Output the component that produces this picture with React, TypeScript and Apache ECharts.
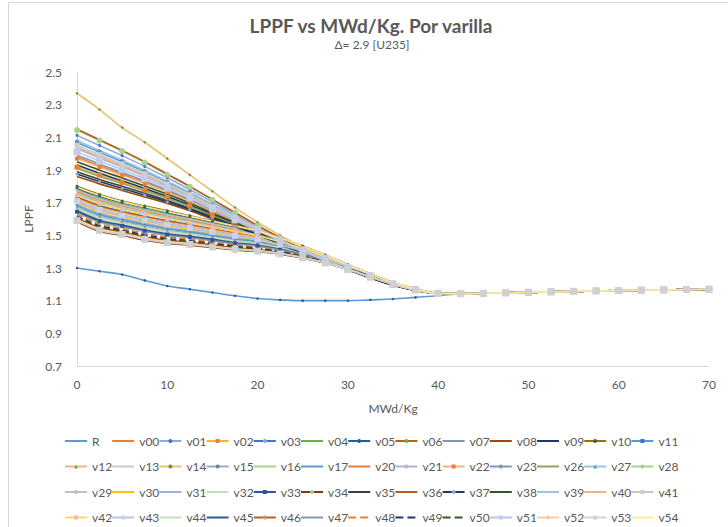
import React, { useEffect, useRef } from "react";
import * as echarts from "echarts";

// x positions (MWd/Kg)
const X_VALUES = [0, 2.5, 5, 7.5, 10, 12.5, 15, 17.5, 20, 22.5, 25, 27.5, 30, 32.5, 35, 37.5,
  40, 42.5, 45, 47.5, 50, 52.5, 55, 57.5, 60, 62.5, 65, 67.5, 70];

// common values from x = 40 to 70 (all rods coincide there)
const TAIL = [1.145, 1.143, 1.145, 1.148, 1.151, 1.154, 1.157, 1.16, 1.162, 1.164, 1.166, 1.168, 1.17];

// per-series values for x = 0 .. 37.5 (R also has x = 40)
const R = [1.3, 1.28, 1.26, 1.224, 1.19, 1.17, 1.15, 1.13, 1.113, 1.105, 1.1, 1.1, 1.1, 1.105, 1.11, 1.12, 1.13];
const v00 = [1.979, 1.926, 1.875, 1.823, 1.769, 1.712, 1.649, 1.587, 1.525, 1.461, 1.4, 1.346, 1.294, 1.244, 1.199, 1.166];
const v01 = [2.112, 2.05, 1.988, 1.922, 1.852, 1.781, 1.704, 1.628, 1.552, 1.48, 1.412, 1.353, 1.299, 1.249, 1.204, 1.169];
const v02 = [1.918, 1.869, 1.824, 1.778, 1.731, 1.68, 1.624, 1.568, 1.512, 1.453, 1.395, 1.343, 1.292, 1.242, 1.197, 1.164];
const v03 = [1.736, 1.683, 1.647, 1.617, 1.59, 1.566, 1.541, 1.515, 1.491, 1.455, 1.413, 1.365, 1.311, 1.259, 1.207, 1.17];
const v04 = [1.779, 1.728, 1.689, 1.659, 1.63, 1.602, 1.574, 1.545, 1.517, 1.475, 1.428, 1.375, 1.317, 1.263, 1.209, 1.171];
const v05 = [1.789, 1.739, 1.7, 1.67, 1.64, 1.611, 1.582, 1.553, 1.524, 1.48, 1.431, 1.378, 1.319, 1.264, 1.21, 1.172];
const v06 = [1.731, 1.677, 1.642, 1.612, 1.585, 1.562, 1.537, 1.512, 1.488, 1.453, 1.411, 1.364, 1.311, 1.259, 1.207, 1.17];
const v07 = [1.991, 1.937, 1.885, 1.832, 1.776, 1.718, 1.654, 1.591, 1.527, 1.463, 1.401, 1.347, 1.295, 1.245, 1.2, 1.166];
const v08 = [1.86, 1.815, 1.775, 1.735, 1.695, 1.65, 1.6, 1.55, 1.5, 1.445, 1.39, 1.34, 1.29, 1.24, 1.195, 1.163];
const v09 = [1.93, 1.88, 1.834, 1.787, 1.738, 1.686, 1.629, 1.572, 1.514, 1.455, 1.396, 1.344, 1.292, 1.242, 1.197, 1.165];
const v10 = [1.8, 1.75, 1.71, 1.68, 1.65, 1.62, 1.59, 1.56, 1.53, 1.485, 1.435, 1.38, 1.32, 1.265, 1.21, 1.172];
const v11 = [2.069, 2.009, 1.951, 1.89, 1.825, 1.758, 1.686, 1.615, 1.543, 1.474, 1.408, 1.351, 1.297, 1.247, 1.202, 1.168];
const v12 = [1.725, 1.671, 1.637, 1.607, 1.58, 1.557, 1.532, 1.508, 1.485, 1.45, 1.409, 1.363, 1.31, 1.258, 1.207, 1.17];
const v13 = [1.693, 1.638, 1.605, 1.575, 1.55, 1.53, 1.508, 1.485, 1.465, 1.435, 1.398, 1.355, 1.305, 1.255, 1.205, 1.169];
const v14 = [2.37, 2.27, 2.16, 2.07, 1.97, 1.87, 1.77, 1.67, 1.58, 1.5, 1.43, 1.37, 1.31, 1.26, 1.21, 1.175];
const v15 = [1.688, 1.632, 1.6, 1.57, 1.545, 1.526, 1.504, 1.482, 1.462, 1.433, 1.396, 1.354, 1.305, 1.255, 1.205, 1.169];
const v16 = [1.757, 1.705, 1.668, 1.638, 1.61, 1.584, 1.557, 1.53, 1.504, 1.465, 1.42, 1.37, 1.314, 1.261, 1.208, 1.171];
const v17 = [1.682, 1.626, 1.595, 1.565, 1.54, 1.521, 1.499, 1.478, 1.459, 1.43, 1.394, 1.353, 1.304, 1.254, 1.205, 1.168];
const v20 = [1.768, 1.716, 1.679, 1.649, 1.62, 1.593, 1.565, 1.538, 1.511, 1.47, 1.424, 1.373, 1.316, 1.262, 1.209, 1.171];
const v21 = [1.714, 1.66, 1.626, 1.596, 1.57, 1.548, 1.524, 1.5, 1.478, 1.445, 1.405, 1.36, 1.308, 1.257, 1.206, 1.169];
const v22 = [1.97, 1.918, 1.868, 1.817, 1.763, 1.707, 1.646, 1.584, 1.523, 1.46, 1.4, 1.346, 1.294, 1.244, 1.199, 1.166];
const v23 = [1.671, 1.615, 1.584, 1.554, 1.53, 1.512, 1.491, 1.47, 1.452, 1.425, 1.39, 1.35, 1.302, 1.253, 1.204, 1.168];
const v26 = [1.909, 1.861, 1.817, 1.772, 1.726, 1.676, 1.62, 1.565, 1.51, 1.452, 1.394, 1.343, 1.292, 1.242, 1.197, 1.164];
const v27 = [2.08, 2.02, 1.961, 1.898, 1.832, 1.764, 1.691, 1.618, 1.546, 1.475, 1.409, 1.351, 1.298, 1.248, 1.203, 1.168];
const v28 = [2.144, 2.08, 2.015, 1.946, 1.871, 1.797, 1.718, 1.638, 1.559, 1.484, 1.415, 1.355, 1.3, 1.25, 1.205, 1.17];
const v29 = [1.774, 1.722, 1.684, 1.654, 1.625, 1.598, 1.57, 1.542, 1.514, 1.473, 1.426, 1.374, 1.317, 1.263, 1.209, 1.171];
const v30 = [1.703, 1.649, 1.616, 1.586, 1.56, 1.539, 1.516, 1.493, 1.472, 1.44, 1.401, 1.358, 1.307, 1.256, 1.206, 1.169];
const v31 = [2.031, 1.974, 1.92, 1.862, 1.801, 1.739, 1.671, 1.603, 1.535, 1.469, 1.405, 1.349, 1.296, 1.246, 1.201, 1.167];
const v32 = [1.666, 1.61, 1.579, 1.549, 1.525, 1.508, 1.487, 1.467, 1.449, 1.423, 1.388, 1.349, 1.302, 1.253, 1.204, 1.168];
const v33 = [1.645, 1.587, 1.558, 1.528, 1.505, 1.49, 1.471, 1.452, 1.436, 1.413, 1.381, 1.344, 1.299, 1.251, 1.203, 1.167];
const v34 = [1.585, 1.525, 1.5, 1.47, 1.45, 1.44, 1.425, 1.41, 1.4, 1.385, 1.36, 1.33, 1.29, 1.245, 1.2, 1.165];
const v35 = [1.889, 1.842, 1.8, 1.757, 1.713, 1.665, 1.612, 1.559, 1.506, 1.449, 1.393, 1.342, 1.291, 1.241, 1.196, 1.164];
const v36 = [2.15, 2.085, 2.02, 1.95, 1.875, 1.8, 1.72, 1.64, 1.56, 1.485, 1.415, 1.355, 1.3, 1.25, 1.205, 1.17];
const v37 = [1.875, 1.829, 1.787, 1.746, 1.704, 1.658, 1.606, 1.555, 1.503, 1.447, 1.391, 1.341, 1.29, 1.24, 1.195, 1.163];
const v38 = [1.95, 1.899, 1.851, 1.802, 1.751, 1.697, 1.637, 1.578, 1.519, 1.457, 1.398, 1.345, 1.293, 1.243, 1.198, 1.165];
const v39 = [1.752, 1.7, 1.663, 1.633, 1.605, 1.58, 1.553, 1.527, 1.501, 1.463, 1.418, 1.369, 1.314, 1.261, 1.208, 1.171];
const v40 = [2.04, 1.982, 1.927, 1.868, 1.807, 1.743, 1.674, 1.606, 1.537, 1.47, 1.406, 1.349, 1.296, 1.246, 1.201, 1.167];
const v41 = [2.051, 1.993, 1.937, 1.877, 1.814, 1.749, 1.679, 1.609, 1.54, 1.471, 1.407, 1.35, 1.297, 1.247, 1.202, 1.168];
const v42 = [1.746, 1.694, 1.658, 1.628, 1.6, 1.575, 1.549, 1.523, 1.498, 1.46, 1.416, 1.368, 1.313, 1.26, 1.208, 1.17];
const v43 = [1.709, 1.655, 1.621, 1.591, 1.565, 1.544, 1.52, 1.497, 1.475, 1.443, 1.403, 1.359, 1.308, 1.257, 1.206, 1.169];
const v44 = [1.66, 1.604, 1.574, 1.544, 1.52, 1.503, 1.483, 1.463, 1.446, 1.42, 1.386, 1.348, 1.301, 1.252, 1.204, 1.167];
const v45 = [1.65, 1.593, 1.563, 1.533, 1.51, 1.494, 1.475, 1.455, 1.439, 1.415, 1.383, 1.345, 1.299, 1.251, 1.203, 1.167];
const v46 = [1.607, 1.548, 1.521, 1.491, 1.47, 1.458, 1.442, 1.425, 1.413, 1.395, 1.368, 1.335, 1.293, 1.247, 1.201, 1.166];
const v47 = [1.639, 1.581, 1.553, 1.523, 1.5, 1.485, 1.466, 1.448, 1.433, 1.41, 1.379, 1.343, 1.298, 1.25, 1.203, 1.167];
const v48 = [1.628, 1.57, 1.542, 1.512, 1.49, 1.476, 1.458, 1.44, 1.426, 1.405, 1.375, 1.34, 1.296, 1.249, 1.202, 1.166];
const v49 = [1.617, 1.559, 1.532, 1.502, 1.48, 1.467, 1.45, 1.433, 1.42, 1.4, 1.371, 1.338, 1.295, 1.248, 1.202, 1.166];
const v50 = [1.612, 1.554, 1.527, 1.497, 1.475, 1.463, 1.446, 1.429, 1.417, 1.398, 1.37, 1.337, 1.294, 1.248, 1.202, 1.166];
const v51 = [2.011, 1.955, 1.902, 1.847, 1.789, 1.728, 1.662, 1.597, 1.531, 1.466, 1.403, 1.348, 1.295, 1.245, 1.2, 1.167];
const v52 = [1.596, 1.536, 1.511, 1.481, 1.46, 1.449, 1.433, 1.418, 1.407, 1.39, 1.364, 1.333, 1.292, 1.246, 1.201, 1.165];
const v53 = [1.59, 1.53, 1.505, 1.475, 1.455, 1.444, 1.429, 1.414, 1.403, 1.387, 1.362, 1.331, 1.291, 1.245, 1.2, 1.165];
const v54 = [1.795, 1.745, 1.705, 1.675, 1.645, 1.616, 1.586, 1.557, 1.527, 1.483, 1.433, 1.379, 1.32, 1.265, 1.21, 1.172];

const SERIES_LIST: [string, number[]][] = [
  ["R", R], ["v00", v00], ["v01", v01], ["v02", v02], ["v03", v03], ["v04", v04], ["v05", v05],
  ["v06", v06], ["v07", v07], ["v08", v08], ["v09", v09], ["v10", v10], ["v11", v11],
  ["v12", v12], ["v13", v13], ["v14", v14], ["v15", v15], ["v16", v16], ["v17", v17],
  ["v20", v20], ["v21", v21], ["v22", v22], ["v23", v23], ["v26", v26], ["v27", v27], ["v28", v28],
  ["v29", v29], ["v30", v30], ["v31", v31], ["v32", v32], ["v33", v33], ["v34", v34], ["v35", v35],
  ["v36", v36], ["v37", v37], ["v38", v38], ["v39", v39], ["v40", v40], ["v41", v41],
  ["v42", v42], ["v43", v43], ["v44", v44], ["v45", v45], ["v46", v46], ["v47", v47], ["v48", v48],
  ["v49", v49], ["v50", v50], ["v51", v51], ["v52", v52], ["v53", v53], ["v54", v54],
];

const Y_TICKS_MIN = 0.7;
const Y_TICKS_MAX = 2.5;
const X_MAX = 70;

// styles: line colour, symbol, symbol size, marker colour, dashed
type St = { c: string; s?: string; z?: number; mc?: string; d?: boolean };
const STYLE: Record<string, St> = {
  R: { c: "#5B9BD5", s: "circle", z: 2.5, mc: "#2F5597" },
  v00: { c: "#ED7D31" },
  v01: { c: "#8FAADC", s: "circle", z: 3, mc: "#4472C4" },
  v02: { c: "#F5B041", s: "rect", z: 5, mc: "#ED7D31" },
  v03: { c: "#4472C4", s: "circle", z: 3, mc: "#A5A5A5" },
  v04: { c: "#70AD47" },
  v05: { c: "#255E91", s: "circle", z: 3 },
  v06: { c: "#C55A11", s: "circle", z: 4, mc: "#70AD47" },
  v07: { c: "#8497B0" },
  v08: { c: "#9E480E" },
  v09: { c: "#203864" },
  v10: { c: "#997300", s: "circle", z: 3, mc: "#43682B" },
  v11: { c: "#5B9BD5", s: "rect", z: 4, mc: "#4472C4" },
  v12: { c: "#F4B183", s: "triangle", z: 5, mc: "#70AD47" },
  v13: { c: "#C9C9C9" },
  v14: { c: "#E2C46E", s: "circle", z: 2.5, mc: "#9E7B3A" },
  v15: { c: "#8FAADC", s: "circle", z: 3, mc: "#7F7F7F" },
  v16: { c: "#A9D18E" },
  v17: { c: "#5B9BD5" },
  v20: { c: "#ED7D31" },
  v21: { c: "#ADB9CA", s: "circle", z: 3 },
  v22: { c: "#F4B183", s: "rect", z: 4, mc: "#ED7D31" },
  v23: { c: "#8497B0", s: "circle", z: 2.5 },
  v26: { c: "#8CA85A" },
  v27: { c: "#9DC3E6", s: "triangle", z: 4, mc: "#5B9BD5" },
  v28: { c: "#A9D18E", s: "circle", z: 6 },
  v29: { c: "#BFBFBF", s: "circle", z: 3 },
  v30: { c: "#FFC000" },
  v31: { c: "#9DB0DE" },
  v32: { c: "#C5E0B4" },
  v33: { c: "#2F5597", s: "rect", z: 4 },
  v34: { c: "#843C0C", s: "circle", z: 5, mc: "#A9C79A" },
  v35: { c: "#404040" },
  v36: { c: "#B85C1E" },
  v37: { c: "#1F3864", s: "circle", z: 3, mc: "#8FAADC" },
  v38: { c: "#375623" },
  v39: { c: "#9DC3E6" },
  v40: { c: "#F4B183" },
  v41: { c: "#C9C9C9", s: "rect", z: 5, mc: "#D0D0D0" },
  v42: { c: "#FFD966", s: "rect", z: 4, mc: "#F4B6B6" },
  v43: { c: "#B4C7E7", s: "rect", z: 6, mc: "#C9D3EA" },
  v44: { c: "#C5E0B4" },
  v45: { c: "#2F5597" },
  v46: { c: "#C55A11", s: "circle", z: 3, mc: "#A5A5A5" },
  v47: { c: "#8497B0" },
  v48: { c: "#ED7D31", d: true },
  v49: { c: "#203864", d: true },
  v50: { c: "#385723", d: true },
  v51: { c: "#B4C7E7", s: "rect", z: 7, mc: "#C5CCE8" },
  v52: { c: "#F8CBAD", s: "circle", z: 4 },
  v53: { c: "#D0D0D0", s: "rect", z: 7, mc: "#D0D0D0" },
  v54: { c: "#FFE699" },
};

const FONT = "Lato, 'Open Sans', sans-serif";
const TEXT_COLOR = "#595959";

export default function App() {
  const ref = useRef<HTMLDivElement>(null);
  useEffect(() => {
    if (!ref.current) return;
    const chart = echarts.init(ref.current, undefined, { renderer: "svg" });
    const names = SERIES_LIST.map((s) => s[0]);
    const series = SERIES_LIST.map(([name, head]) => {
      const st = STYLE[name];
      const ys = head.concat(TAIL.slice(head.length - 16));
      return {
        name,
        type: "line",
        smooth: 0.4,
        data: X_VALUES.map((x, i) => [x, ys[i]]),
        symbol: st.s ?? "none",
        symbolSize: st.z ?? 4,
        showSymbol: !!st.s,
        lineStyle: { color: st.c, width: 1.6, type: st.d ? "dashed" : "solid" },
        itemStyle: { color: st.mc ?? st.c, borderWidth: 0 },
        emphasis: { disabled: true },
        silent: true,
      };
    });
    const legendItem = (n: string) => {
      const st = STYLE[n];
      const plain = !st.s || n === "R";
      return plain ? { name: n, itemStyle: { opacity: 0 } } : { name: n };
    };
    const legends = Array.from({ length: 13 }, (_, i) => ({
      orient: "vertical",
      left: 64 + i * 47.2,
      top: 434,
      padding: 0,
      itemWidth: 22,
      itemHeight: 5,
      itemGap: 11.5,
      selectedMode: false,
      data: [names[i], names[13 + i], names[26 + i], names[39 + i]].map(legendItem),
      textStyle: { fontSize: 12, color: TEXT_COLOR, fontFamily: FONT, lineHeight: 14 },
    }));
    chart.setOption({
      animation: false,
      backgroundColor: "#ffffff",
      textStyle: { fontFamily: FONT },
      grid: { left: 77, right: 19, top: 72, bottom: 161, containLabel: false },
      xAxis: {
        type: "value",
        min: 0,
        max: X_MAX,
        interval: 10,
        name: "MWd/Kg",
        nameLocation: "middle",
        nameGap: 36,
        nameTextStyle: { fontSize: 12, color: TEXT_COLOR, fontFamily: FONT },
        axisLine: { show: true, lineStyle: { color: "#D9D9D9", width: 1 } },
        axisTick: { show: false },
        splitLine: { show: false },
        axisLabel: { fontSize: 12, color: TEXT_COLOR, fontFamily: FONT, margin: 12 },
      },
      yAxis: {
        type: "value",
        min: Y_TICKS_MIN,
        max: Y_TICKS_MAX,
        interval: 0.2,
        name: "LPPF",
        nameLocation: "middle",
        nameGap: 40,
        nameTextStyle: { fontSize: 12, color: TEXT_COLOR, fontFamily: FONT },
        axisLine: { show: true, lineStyle: { color: "#D9D9D9", width: 1 } },
        axisTick: { show: false },
        splitLine: { show: false },
        axisLabel: {
          fontSize: 12,
          color: TEXT_COLOR,
          fontFamily: FONT,
          margin: 15,
          formatter: (v: number) => v.toFixed(1),
        },
      },
      legend: legends,
      graphic: [
        {
          type: "rect",
          silent: true,
          z: -10,
          shape: { x: 8.5, y: 2.5, width: 800, height: 700 },
          style: { fill: "none", stroke: "#D9D9D9", lineWidth: 1 },
        },
        {
          type: "text",
          x: 371,
          y: 25,
          style: {
            text: "LPPF vs MWd/Kg. Por varilla",
            fontSize: 19,
            fontWeight: "bold",
            fontFamily: FONT,
            fill: TEXT_COLOR,
            align: "center",
            verticalAlign: "middle",
          },
        },
        {
          type: "text",
          x: 372,
          y: 44,
          style: {
            text: "Δ= 2.9 [U235]",
            fontSize: 12,
            fontFamily: FONT,
            fill: TEXT_COLOR,
            align: "center",
            verticalAlign: "middle",
          },
        },
      ],
      series,
    });
    return () => chart.dispose();
  }, []);
  return (
    <div
      ref={ref}
      style={{ position: "fixed", left: 0, top: 0, width: 728, height: 527 }}
    />
  );
}
